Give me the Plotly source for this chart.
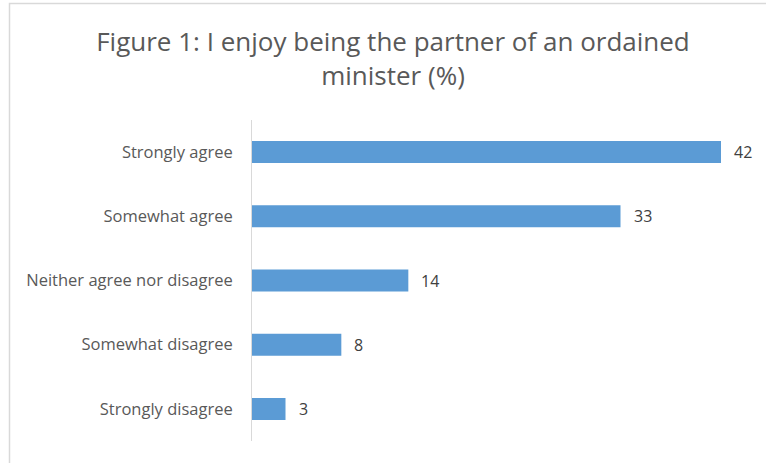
import plotly.graph_objects as go

categories = ["Strongly agree", "Somewhat agree", "Neither agree nor disagree", "Somewhat disagree", "Strongly disagree"]
values = [42, 33, 14, 8, 3]
title_text = "Figure 1: I enjoy being the partner of an ordained<br>minister (%)"

W, H = 766, 463
L, R, T, B = 252, 14, 120, 22
pw = W - L - R
ph = H - T - B
xmax = 42 * pw / 469.0

fig = go.Figure(go.Bar(
    y=categories, x=values, orientation="h",
    marker=dict(color="#5B9BD5", line=dict(width=0)),
    hoverinfo="skip",
))

for c, v in zip(categories, values):
    fig.add_annotation(x=v, y=c, text=str(v), showarrow=False, xanchor="left",
                       xshift=11, font=dict(family="Open Sans", size=16, color="#404040"))

def px2paper_x(p):
    return (p - L) / pw

def py2paper_y(p):
    return (H - B - p) / ph

fig.add_shape(type="rect", xref="paper", yref="paper",
              x0=px2paper_x(9.5), x1=px2paper_x(800), y0=py2paper_y(3.5), y1=py2paper_y(500),
              line=dict(color="#d9d9d9", width=1.5), layer="below")

fig.update_layout(
    width=W, height=H,
    margin=dict(l=L, r=R, t=T, b=B),
    paper_bgcolor="white", plot_bgcolor="white",
    bargap=0.657,
    showlegend=False,
    title=dict(text=title_text, x=393 / W, xanchor="center", y=1 - 51 / H, yanchor="middle",
               font=dict(family="Open Sans", size=26, color="#595959")),
    xaxis=dict(range=[0, xmax], visible=False, fixedrange=True),
    yaxis=dict(autorange="reversed", showline=True, linecolor="#d9d9d9", linewidth=1,
               showgrid=False, zeroline=False, ticks="", ticklabelstandoff=15,
               tickfont=dict(family="Open Sans", size=16.5, color="#595959")),
)

fig.write_html("out.html")
